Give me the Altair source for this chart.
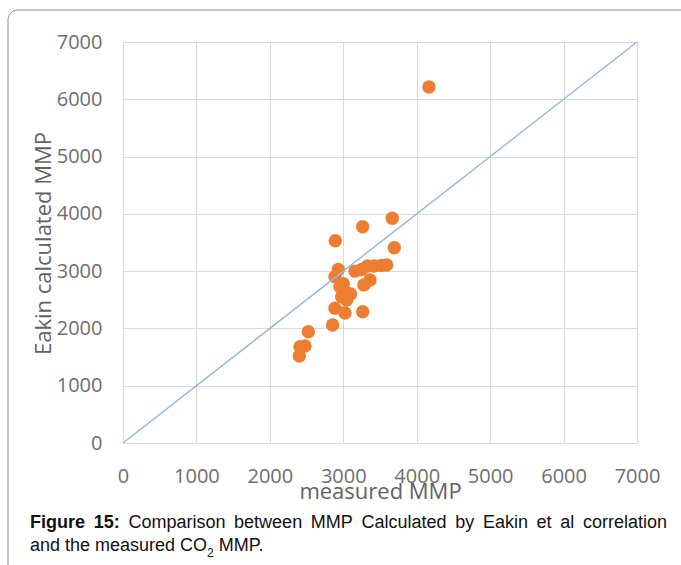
import altair as alt
import pandas as pd

# Measured vs. Eakin-correlation MMP (psi)
measured = [4167, 3667, 3264, 2891, 3695, 3591, 3520, 3420, 3330, 3250,
            3160, 2932, 2887, 2955, 3023, 3364, 3280, 3046, 2978, 2887,
            3023, 3264, 2855, 2524, 2479, 2410, 2401, 3100, 3000]
calculated = [6214, 3922, 3776, 3531, 3409, 3107, 3100, 3090, 3090, 3030,
              3000, 3030, 2903, 2729, 2641, 2845, 2760, 2496, 2554, 2351,
              2270, 2292, 2060, 1943, 1693, 1681, 1519, 2600, 2780]

# y = x reference line
line_x = [0, 7000]
line_y = [0, 7000]

tick_values = [0, 1000, 2000, 3000, 4000, 5000, 6000, 7000]

caption_bold = ["Figure", "15:"]
caption_line1 = ["Comparison", "between", "MMP", "Calculated", "by",
                 "Eakin", "et", "al", "correlation"]
caption_line2_a = "and the measured CO"
caption_sub = "2"
caption_line2_b = "MMP."

W, H = 514, 401
LEFT, TOP = 123, 42

AXIS_GREY = "#6E6E6E"
TITLE_GREY = "#626262"
GRID = "#D9D9D9"

# Arial / Liberation Sans advance widths (em) used to lay out the caption
ARIAL_R = {' ': .278, '.': .278, ':': .278, 'a': .556, 'b': .556, 'c': .5,
           'd': .556, 'e': .556, 'g': .556, 'h': .556, 'i': .222, 'k': .5,
           'l': .222, 'm': .833, 'n': .556, 'o': .556, 'p': .556, 'r': .333,
           's': .5, 't': .278, 'u': .556, 'w': .722, 'y': .5, 'C': .722,
           'E': .667, 'M': .833, 'O': .778, 'P': .667, '2': .556}
ARIAL_B = {'F': .611, 'i': .278, 'g': .611, 'u': .611, 'r': .389, 'e': .556,
           '1': .556, '5': .556, ':': .333, ' ': .278}


def text_width(s, size, bold=False):
    table = ARIAL_B if bold else ARIAL_R
    return sum(table.get(c, .556) for c in s) * size


one_row = alt.Data(values=[{}])
CAP_SIZE = 18
CAP_FONT = "Liberation Sans"


def word(text, x, y, size=CAP_SIZE, bold=False):
    return alt.Chart(one_row).mark_text(
        text=text, align="left", baseline="alphabetic", font=CAP_FONT,
        fontSize=size, fontWeight="bold" if bold else "normal", color="#111111",
    ).encode(x=alt.value(x), y=alt.value(y))


# justified first caption line
line_left, line_right = 30 - LEFT, 667 - LEFT
words = [(w, True) for w in caption_bold] + [(w, False) for w in caption_line1]
widths = [text_width(w, CAP_SIZE, b) for w, b in words]
gap = (line_right - line_left - sum(widths)) / (len(words) - 1)
caption_layers = []
xpos = line_left
base1 = 528 - TOP
for (w, b), wd in zip(words, widths):
    caption_layers.append(word(w, xpos, base1, bold=b))
    xpos += wd + gap

base2 = 551 - TOP
x2 = line_left
caption_layers.append(word(caption_line2_a, x2, base2))
x2 += text_width(caption_line2_a, CAP_SIZE)
caption_layers.append(word(caption_sub, x2, base2 + 6, size=12))
x2 += text_width(caption_sub, 12) + 5
caption_layers.append(word(caption_line2_b, x2, base2))

# outer rounded frame (outline only, so the grid stays visible)
frame = alt.Chart(one_row).mark_rect(
    fillOpacity=0, stroke="#8C8C8C", strokeWidth=1, cornerRadius=10
).encode(
    x=alt.value(8 - LEFT), x2=alt.value(W + 120),
    y=alt.value(10 - TOP), y2=alt.value(H + 200),
)

x_scale = alt.Scale(domain=[0, 7000], nice=False, zero=False)
y_scale = alt.Scale(domain=[0, 7000], nice=False, zero=False)

x_axis = alt.Axis(
    values=tick_values, format="d", grid=True, gridColor=GRID, ticks=False,
    domain=False, labelFont="Open Sans", labelFontSize=20, labelColor=AXIS_GREY,
    labelBaseline="alphabetic", labelPadding=39, labelFlush=False,
    labelOverlap=False, title="measured MMP", titleFont="Open Sans",
    titleFontSize=22, titleFontWeight="normal", titleColor=TITLE_GREY,
    titleBaseline="alphabetic", titleY=55, titleX=W / 2, titleAlign="center",
)
y_axis = alt.Axis(
    values=tick_values, format="d", grid=True, gridColor=GRID, ticks=False,
    domain=False, labelFont="Open Sans", labelFontSize=20, labelColor=AXIS_GREY,
    labelPadding=21, labelOverlap=False, title="Eakin calculated MMP",
    titleFont="Open Sans", titleFontSize=22, titleFontWeight="normal",
    titleColor=TITLE_GREY, titleAngle=270, titleBaseline="alphabetic",
    titleAlign="center", titleX=50 - LEFT, titleY=243 - TOP,
)

points = alt.Chart(pd.DataFrame({"measured": measured, "calculated": calculated})).mark_circle(
    size=180, color="#ED7D31", opacity=1
).encode(
    x=alt.X("measured:Q", scale=x_scale, axis=x_axis),
    y=alt.Y("calculated:Q", scale=y_scale, axis=y_axis),
)

diagonal = alt.Chart(pd.DataFrame({"measured": line_x, "calculated": line_y})).mark_line(
    color="#8FBBE3", strokeWidth=1.5
).encode(
    x=alt.X("measured:Q", scale=x_scale),
    y=alt.Y("calculated:Q", scale=y_scale),
)

chart = alt.layer(frame, points, diagonal, *caption_layers).properties(
    width=W, height=H,
    autosize=alt.AutoSizeParams(type="none"),
    padding={"left": LEFT, "top": TOP, "right": 681 - LEFT - W, "bottom": 565 - TOP - H},
    background="white",
).configure_view(stroke=None)

chart.save("out.html", embed_options={"renderer": "svg", "actions": False})
